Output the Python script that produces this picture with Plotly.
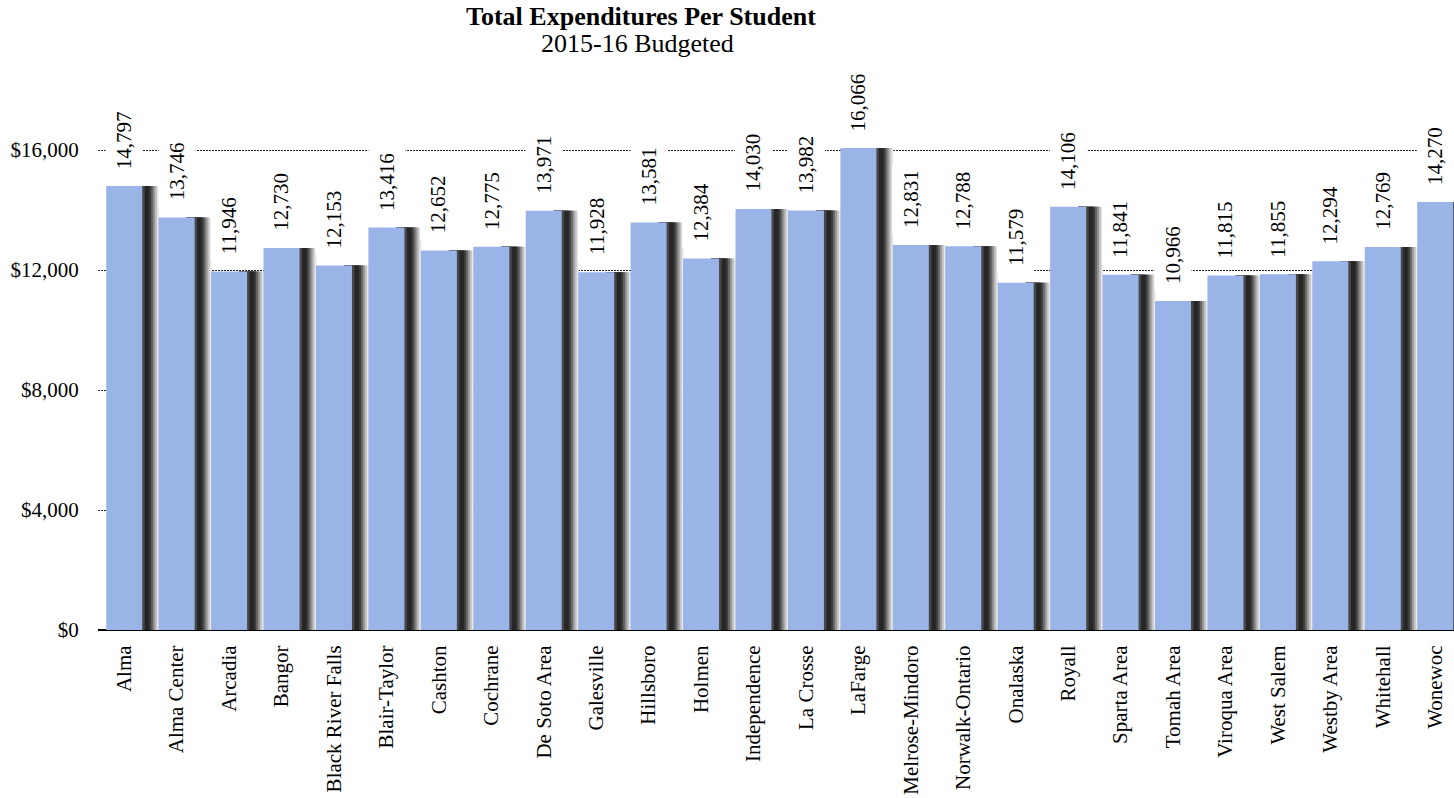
import plotly.graph_objects as go

districts = ["Alma", "Alma Center", "Arcadia", "Bangor", "Black River Falls", "Blair-Taylor",
             "Cashton", "Cochrane", "De Soto Area", "Galesville", "Hillsboro", "Holmen",
             "Independence", "La Crosse", "LaFarge", "Melrose-Mindoro", "Norwalk-Ontario",
             "Onalaska", "Royall", "Sparta Area", "Tomah Area", "Viroqua Area", "West Salem",
             "Westby Area", "Whitehall", "Wonewoc"]
expenditures = [14797, 13746, 11946, 12730, 12153, 13416, 12652, 12775, 13971, 11928,
                13581, 12384, 14030, 13982, 16066, 12831, 12788, 11579, 14106, 11841,
                10966, 11815, 11855, 12294, 12769, 14270]
y_ticks = [0, 4000, 8000, 12000, 16000]
y_tick_labels = ["$0", "$4,000", "$8,000", "$12,000", "$16,000"]

FONT = "Liberation Serif, Times New Roman, serif"
W, H = 1454, 798
ML, MR, MT, MB = 98, 0, 90, 168
u = 52.44  # pixels per category
n = len(districts)
x_hi = -0.5 + (W - ML - MR) / u

def px(v):
    return v / u

fig = go.Figure()

# soft shadow to the right of each bar: overlapping layers, widest/lightest first
shadow_layers = [(10, 35, "#e8e8e8"), (10, 33, "#c4c4c4"), (10, 31, "#969696"),
                 (10, 29, "#666666"), (10, 27, "#3c3c3c"), (10, 25, "#262626"),
                 (10, 20.5, "#474747")]
for left, right, col in shadow_layers:
    fig.add_trace(go.Bar(x=districts, y=expenditures, marker=dict(color=col, line=dict(width=0)),
                         width=px(right - left), offset=px(left), hoverinfo="skip",
                         showlegend=False))

fig.add_trace(go.Bar(x=districts, y=expenditures,
                     marker=dict(color="#9bb4e8", line=dict(width=0)),
                     width=px(36), offset=px(-18), showlegend=False))

for d, v in zip(districts, expenditures):
    fig.add_annotation(x=d, y=v, text=f"{v:,}", textangle=-90, showarrow=False,
                       yanchor="bottom", xanchor="center", yshift=10,
                       bgcolor="white", borderpad=6,
                       font=dict(family=FONT, size=21, color="black"))

pw = W - ML - MR
fig.add_annotation(xref="paper", yref="paper", x=(641 - ML) / pw, y=1,
                   yshift=MT - 16, yanchor="middle", showarrow=False,
                   text="<b>Total Expenditures Per Student</b>",
                   font=dict(family=FONT, size=26, color="black"))
fig.add_annotation(xref="paper", yref="paper", x=(637 - ML) / pw, y=1,
                   yshift=MT - 43, yanchor="middle", showarrow=False,
                   text="2015-16 Budgeted",
                   font=dict(family=FONT, size=26, color="black"))

fig.update_layout(
    width=W, height=H, barmode="overlay",
    margin=dict(l=ML, r=MR, t=MT, b=MB, autoexpand=False),
    paper_bgcolor="white", plot_bgcolor="white",
    font=dict(family=FONT, size=20, color="black"),
    xaxis=dict(tickangle=-90, showgrid=False, showline=False,
               ticks="outside", ticklen=6, tickcolor="white",
               tickfont=dict(family=FONT, size=21), range=[-0.5, x_hi], automargin=False),
    yaxis=dict(range=[0, 18000], tickvals=y_ticks, ticktext=y_tick_labels,
               showgrid=True, gridcolor="#222222", griddash="2px,1px", gridwidth=1,
               zeroline=True, zerolinecolor="black", zerolinewidth=1.5,
               showline=False, ticks="outside", ticklen=14, tickcolor="white",
               tickfont=dict(family=FONT, size=21), automargin=False),
)
fig.write_html("out.html", config={"displayModeBar": False},
               post_script="document.body.style.margin='0px';")
